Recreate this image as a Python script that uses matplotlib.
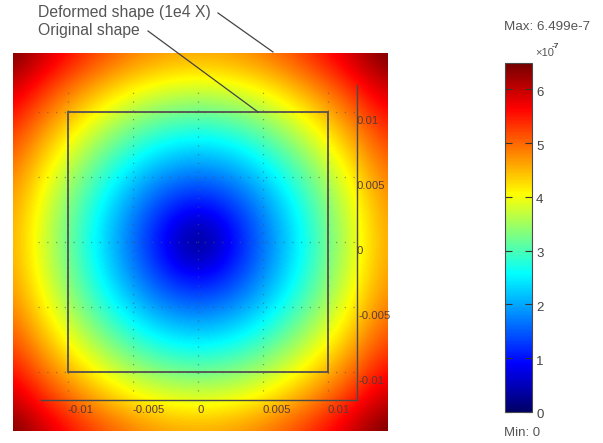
import numpy as np
import matplotlib
matplotlib.use('Agg')
import matplotlib.pyplot as plt
from matplotlib.colors import LinearSegmentedColormap
from matplotlib.lines import Line2D
from matplotlib.patches import Rectangle
from matplotlib.transforms import ScaledTranslation

plt.rcParams['font.family'] = ['Liberation Sans', 'DejaVu Sans']

W, H = 603, 443

# values, one quadrant, centre at [0, 0], step 0.0024
quadrant = np.array([
    [0.00, 0.77, 1.54, 2.30, 3.07, 3.84, 4.61],
    [0.77, 1.09, 1.72, 2.43, 3.17, 3.92, 4.67],
    [1.54, 1.72, 2.17, 2.77, 3.43, 4.13, 4.86],
    [2.30, 2.43, 2.77, 3.26, 3.84, 4.48, 5.15],
    [3.07, 3.17, 3.43, 3.84, 4.34, 4.92, 5.54],
    [3.84, 3.92, 4.13, 4.48, 4.92, 5.43, 6.00],
    [4.61, 4.67, 4.86, 5.15, 5.54, 6.00, 6.499],
])
field_step = 0.0024
x_ticks = [-0.01, -0.005, 0, 0.005, 0.01]
x_labels = ['-0.01', '-0.005', '0', '0.005', '0.01']
y_ticks = [0.01, 0.005, 0, -0.005, -0.01]
y_labels = ['0.01', '0.005', '0', '-0.005', '-0.01']
bar_ticks = [0, 1, 2, 3, 4, 5, 6]
v_min, v_max = 0, 6.499
original_shape = (-0.01, -0.01, 0.02, 0.02)

# colours as they sit on the colorbar of the picture
cmap_values = [0, 0.9, 2.57, 4.05, 5.65, 6.499]
cmap_colors = ['#000066', '#0000ff', '#00ffff', '#ffff00', '#ff0000', '#730000']

# the plot is symmetric, mirror the quadrant
top = np.hstack([quadrant[:, :0:-1], quadrant])
field = np.vstack([top[:0:-1], top])
cmap = LinearSegmentedColormap.from_list(
    'field', [(v / v_max, c) for v, c in zip(cmap_values, cmap_colors)])


def rect(left, top_, right, bottom):
    return [left / W, 1 - bottom / H, (right - left) / W, (bottom - top_) / H]


fig = plt.figure(figsize=(W / 100, H / 100), dpi=100, facecolor='white')
ax = fig.add_axes(rect(13, 53, 388, 431))

half = field_step * 6.5
im = ax.imshow(field, cmap=cmap, vmin=v_min, vmax=v_max, interpolation='bicubic',
               extent=[-half, half, -half, half], origin='lower', aspect='auto')
ax.set_xlim(-0.01423, 0.01462)
ax.set_ylim(-0.01454, 0.01454)

# axes lines sit inside the image
for s in ['top', 'left']:
    ax.spines[s].set_visible(False)
ax.spines['bottom'].set_position(('data', -0.01215))
ax.spines['bottom'].set_bounds(-0.0121, 0.01227)
ax.spines['right'].set_position(('data', 0.01227))
ax.spines['right'].set_bounds(-0.01215, 0.0121)
for s in ['bottom', 'right']:
    ax.spines[s].set_color('#4a4a4a')
    ax.spines[s].set_linewidth(1.0)

ax.set_xticks(x_ticks, x_labels, ha='left', fontsize=8.2, color='#5a3a3a')
ax.tick_params(axis='x', length=0, pad=3.5)
ax.set_yticks([])

for y, lab in zip(y_ticks, y_labels):
    ax.annotate(lab, (0.01227, y), xytext=(-1 if y >= 0 else 1, -9), textcoords='offset pixels',
                ha='left', va='center', fontsize=8.2, color='#5a3a3a')

# dotted grid
ax.vlines(x_ticks, -0.0115, 0.0119, colors='#555555', linestyles=(0, (1, 6)), linewidth=0.9, alpha=0.6)
ax.hlines(y_ticks, -0.0123, 0.0122, colors='#555555', linestyles=(0, (1, 6)), linewidth=0.9, alpha=0.6)

ax.add_patch(Rectangle(original_shape[:2], original_shape[2], original_shape[3], fill=False,
                       edgecolor='#555050', linewidth=1.3))

# colorbar
cax = fig.add_axes(rect(505, 62.5, 532, 412))
cb = fig.colorbar(im, cax=cax, ticks=bar_ticks)
cb.outline.set_edgecolor('#4a4a4a')
cax.tick_params(direction='in', left=True, right=True, length=5, width=0.8, color='#333333',
                labelsize=9.5, labelcolor='#444444', pad=3)
for t in cax.get_yticklabels():
    t.set_transform(t.get_transform() + ScaledTranslation(0, -2 / 100, fig.dpi_scale_trans))

fig.text(504 / W, 1 - 27 / H, 'Max: 6.499e-7', fontsize=9.6, color='#555555', va='center')
fig.text(535 / W, 1 - 53 / H, '\u00d710', fontsize=8, color='#555555', va='center')
fig.text(552 / W, 1 - 47 / H, '-7', fontsize=6, color='#444444', va='center', fontweight='bold')
fig.text(504 / W, 1 - 433 / H, 'Min: 0', fontsize=9.5, color='#555555', va='center')

# labels and leader lines
fig.text(38 / W, 1 - 13 / H, 'Deformed shape (1e4 X)', fontsize=11.3, color='#555555', va='center')
fig.text(38 / W, 1 - 31 / H, 'Original shape', fontsize=11.3, color='#555555', va='center')
for xs, ys in [([218, 273], [13, 52]), ([148, 258], [31, 112])]:
    fig.add_artist(Line2D([x / W for x in xs], [1 - y / H for y in ys], color='#444444', linewidth=0.9))

fig.savefig('out.png', dpi=100)
